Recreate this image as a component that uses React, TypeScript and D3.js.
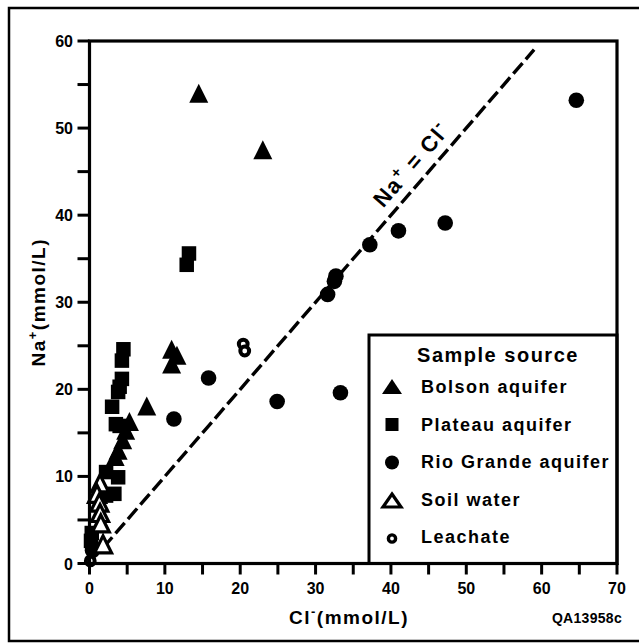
import React from "react"
import * as d3 from "d3"

// Cl- (x) and Na+ (y) in mmol/L
const bolson = [
  [14.5, 54.0], [23.0, 47.5], [10.9, 24.6], [11.6, 23.9], [10.9, 22.9],
  [7.6, 18.1], [5.3, 16.3], [4.8, 15.3], [4.4, 14.2], [3.8, 13.0], [3.4, 12.3],
]
const plateau = [
  [13.2, 35.6], [12.9, 34.3], [4.5, 24.6], [4.3, 23.3], [4.3, 21.2], [4.0, 20.3],
  [3.8, 19.7], [3.0, 18.0], [3.5, 16.0], [4.0, 15.8], [2.2, 10.5], [3.8, 9.9],
  [3.3, 8.0], [2.2, 7.8], [0.3, 3.5], [0.2, 2.6],
]
const rioGrande = [
  [64.6, 53.2], [47.2, 39.1], [41.0, 38.2], [37.2, 36.6], [32.7, 33.0], [32.5, 32.4],
  [31.6, 30.9], [15.8, 21.3], [11.2, 16.6], [24.9, 18.6], [33.3, 19.6], [0.4, 1.5],
]
const soilWater = [[1.4, 9.2], [1.0, 8.0], [1.3, 7.0], [1.4, 5.8], [1.5, 4.6], [1.8, 2.2]]
const leachate = [[20.4, 25.2], [20.6, 24.4], [0.1, 0.3]]

const xTicks = [0, 5, 10, 15, 20, 25, 30, 35, 40, 45, 50, 55, 60, 65, 70]
const yTicks = [0, 5, 10, 15, 20, 25, 30, 35, 40, 45, 50, 55, 60]
const xLabels = [0, 10, 20, 30, 40, 50, 60, 70]
const yLabels = [0, 10, 20, 30, 40, 50, 60]
const oneToOne = [1.8, 59]

const legendItems = ["Bolson aquifer", "Plateau aquifer", "Rio Grande aquifer", "Soil water", "Leachate"]

const font = "'Liberation Sans', Arial, Helvetica, sans-serif"

const triPath = (cx: number, cy: number, w: number, h: number) =>
  `M${cx},${cy - h / 2}L${cx + w / 2},${cy + h / 2}L${cx - w / 2},${cy + h / 2}Z`

function Marker({ kind, cx, cy, legend }: { kind: number; cx: number; cy: number; legend?: boolean }) {
  const tw = legend ? 20 : 19
  const th = legend ? 15 : 19
  if (kind === 0) return <path d={triPath(cx, cy, tw, th)} fill="#000" />
  if (kind === 1) {
    const s = legend ? 13 : 14.5
    return <rect x={cx - s / 2} y={cy - s / 2} width={s} height={s} fill="#000" />
  }
  if (kind === 2) return <circle cx={cx} cy={cy} r={legend ? 7 : 7.8} fill="#000" />
  if (kind === 3)
    return (
      <path
        d={triPath(cx, cy, tw - 2, th - 2)}
        fill="#fff"
        stroke="#000"
        strokeWidth={3.2}
        strokeLinejoin="miter"
      />
    )
  return <circle cx={cx} cy={cy} r={legend ? 3.6 : 4.4} fill="#fff" stroke="#000" strokeWidth={legend ? 3.4 : 4} />
}

export default function App() {
  const left = 89.5
  const right = 617
  const top = 41
  const bottom = 563.5

  const x = d3.scaleLinear().domain([0, 70]).range([left, right])
  const y = d3.scaleLinear().domain([0, 60]).range([bottom, top])

  const series = [bolson, plateau, rioGrande, soilWater, leachate]

  // angle of the 1:1 line in screen space
  const ang = (Math.atan2(y(1) - y(0), x(1) - x(0)) * 180) / Math.PI
  const lx = x(40)
  const ly = y(40)

  const legX = 369
  const legY = 335

  return (
    <div style={{ position: "absolute", left: 0, top: 0 }}>
      <svg width={639} height={644} style={{ display: "block", background: "#fff" }} fontFamily={font}>
        {/* outer frame */}
        <rect x={9} y={8} width={640} height={633} fill="none" stroke="#000" strokeWidth={2.5} />

        {/* 1:1 line */}
        <line
          x1={x(oneToOne[0])}
          y1={y(oneToOne[0])}
          x2={x(oneToOne[1])}
          y2={y(oneToOne[1])}
          stroke="#000"
          strokeWidth={3.4}
          strokeDasharray="14 5"
        />
        <text
          transform={`translate(${lx},${ly}) rotate(${ang})`}
          dy={-10}
          fontSize={22}
          fontWeight="bold"
          letterSpacing={1.5}
        >
          Na
          <tspan dy={-9} fontSize={15}>+</tspan>
          <tspan dy={9}> = Cl</tspan>
          <tspan dy={-9} fontSize={17}>-</tspan>
        </text>

        {/* data */}
        {series.map((pts, k) =>
          pts.map((p, i) => <Marker key={`${k}-${i}`} kind={k} cx={x(p[0])} cy={y(p[1])} />),
        )}

        {/* legend */}
        <rect
          x={legX}
          y={legY}
          width={right - legX}
          height={bottom - legY}
          fill="#fff"
          stroke="#000"
          strokeWidth={3}
        />
        <text x={498} y={361.5} textAnchor="middle" fontSize={20} fontWeight="bold" letterSpacing={1.5}>
          Sample source
        </text>
        {legendItems.map((name, i) => (
          <g key={name}>
            <Marker kind={i} cx={392} cy={386.5 + i * 38} legend />
            <text x={421} y={393.3 + i * 37.5} fontSize={18} fontWeight="bold" letterSpacing={1.5}>
              {name}
            </text>
          </g>
        ))}

        {/* plot frame */}
        <rect x={left} y={top} width={right - left} height={bottom - top} fill="none" stroke="#000" strokeWidth={3.2} />

        {/* ticks */}
        {xTicks.map((t) => (
          <line key={`xt${t}`} x1={x(t)} x2={x(t)} y1={bottom} y2={bottom + 11} stroke="#000" strokeWidth={3} />
        ))}
        {yTicks.map((t) => (
          <line key={`yt${t}`} x1={left - 12} x2={left} y1={y(t)} y2={y(t)} stroke="#000" strokeWidth={3} />
        ))}
        {xLabels.map((t) => (
          <text key={`xl${t}`} x={x(t)} y={594} textAnchor="middle" fontSize={16} fontWeight="bold">
            {t}
          </text>
        ))}
        {yLabels.map((t) => (
          <text key={`yl${t}`} x={73} y={y(t) + 6} textAnchor="end" fontSize={16} fontWeight="bold">
            {t}
          </text>
        ))}

        {/* axis titles */}
        <text x={349} y={624} textAnchor="middle" fontSize={19} fontWeight="bold" letterSpacing={1.5}>
          Cl
          <tspan dy={-8} fontSize={13}>-</tspan>
          <tspan dy={8}>(mmol/L)</tspan>
        </text>
        <text
          transform={`translate(45,${(top + bottom) / 2}) rotate(-90)`}
          textAnchor="middle"
          fontSize={19}
          fontWeight="bold"
          letterSpacing={1.5}
        >
          Na
          <tspan dy={-8} fontSize={13}>+</tspan>
          <tspan dy={8}>(mmol/L)</tspan>
        </text>

        <text x={622} y={623} textAnchor="end" fontSize={14} fontWeight="bold" letterSpacing={0.3}>
          QA13958c
        </text>
      </svg>
    </div>
  )
}
